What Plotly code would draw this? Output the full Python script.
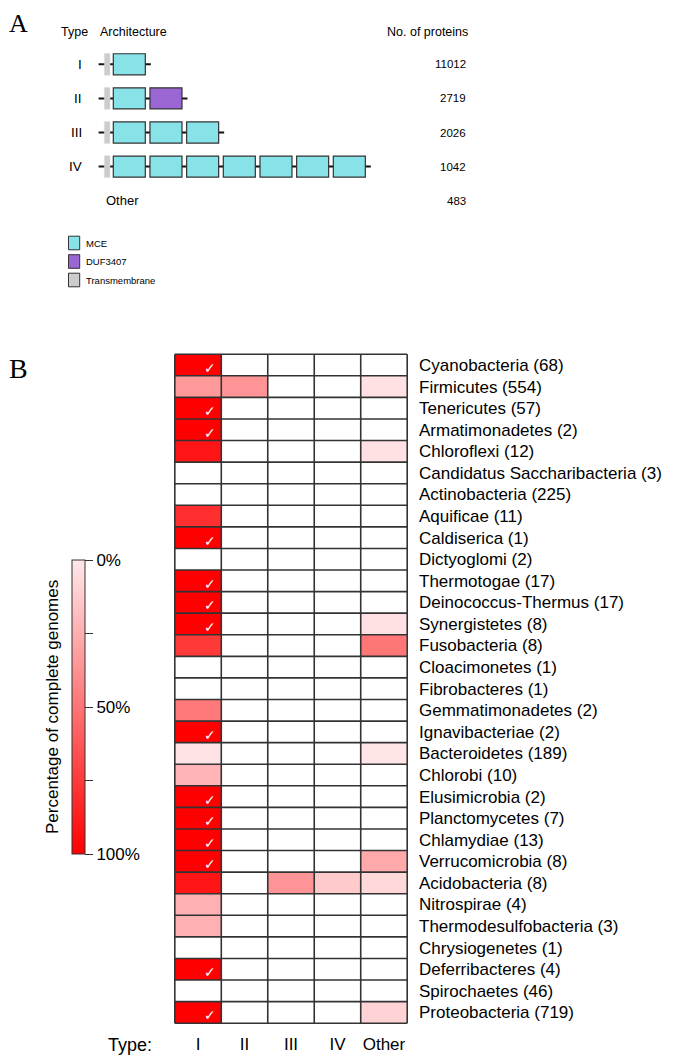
import plotly.graph_objects as go

# ---------------- DATA ----------------
# Panel A: protein architectures
arch_types = ["I", "II", "III", "IV"]
arch_domains = [
    ["MCE"],
    ["MCE", "DUF3407"],
    ["MCE", "MCE", "MCE"],
    ["MCE", "MCE", "MCE", "MCE", "MCE", "MCE", "MCE"],
]
arch_rows = ["I", "II", "III", "IV", "Other"]
protein_counts = ["11012", "2719", "2026", "1042", "483"]
legend_items = ["MCE", "DUF3407", "Transmembrane"]

# Panel B: percentage of complete genomes per phylum and type
phyla = [
    "Cyanobacteria (68)", "Firmicutes (554)", "Tenericutes (57)", "Armatimonadetes (2)",
    "Chloroflexi (12)", "Candidatus Saccharibacteria (3)", "Actinobacteria (225)",
    "Aquificae (11)", "Caldiserica (1)", "Dictyoglomi (2)", "Thermotogae (17)",
    "Deinococcus-Thermus (17)", "Synergistetes (8)", "Fusobacteria (8)",
    "Cloacimonetes (1)", "Fibrobacteres (1)", "Gemmatimonadetes (2)",
    "Ignavibacteriae (2)", "Bacteroidetes (189)", "Chlorobi (10)", "Elusimicrobia (2)",
    "Planctomycetes (7)", "Chlamydiae (13)", "Verrucomicrobia (8)", "Acidobacteria (8)",
    "Nitrospirae (4)", "Thermodesulfobacteria (3)", "Chrysiogenetes (1)",
    "Deferribacteres (4)", "Spirochaetes (46)", "Proteobacteria (719)",
]
types = ["I", "II", "III", "IV", "Other"]
pct_I = [100, 34, 100, 100, 91, 0, 0, 80, 100, 0, 100, 100, 100, 76, 0, 0, 48,
         100, 2, 22, 100, 100, 100, 100, 91, 24, 24, 0, 100, 0, 100]
pct_II = [0, 36, 0, 0, 0, 0, 0, 0, 0, 0, 0, 0, 0, 0, 0, 0, 0,
          0, 0, 0, 0, 0, 0, 0, 0, 0, 0, 0, 0, 0, 0]
pct_III = [0, 0, 0, 0, 0, 0, 0, 0, 0, 0, 0, 0, 0, 0, 0, 0, 0,
           0, 0, 0, 0, 0, 0, 0, 36, 0, 0, 0, 0, 0, 0]
pct_IV = [0, 0, 0, 0, 0, 0, 0, 0, 0, 0, 0, 0, 0, 0, 0, 0, 0,
          0, 0, 0, 0, 0, 0, 0, 13, 0, 0, 0, 0, 0, 0]
pct_Other = [0, 3, 0, 0, 3, 0, 0, 0, 0, 0, 0, 0, 3, 49, 0, 0, 0,
             0, 1.5, 0, 0, 0, 0, 27, 7, 0, 0, 0, 0, 0, 9]
cbar_ticks = [0, 25, 50, 75, 100]
cbar_ticktext = ["0%", "", "50%", "", "100%"]

# ---------------- STYLE ----------------
OFF = 8                      # page body margin of the html page
WIN_W, WIN_H = 675, 1060
W, H = WIN_W - OFF, WIN_H - OFF
SANS = "Liberation Sans, Arial, sans-serif"
SERIF = "Liberation Serif, Times New Roman, serif"
DOMAIN_COLORS = {"MCE": "#88E3E9", "DUF3407": "#9966D3", "Transmembrane": "#CCCCCC"}
GRID = "#333333"


def px_x(p):
    """window pixel -> paper x"""
    return (p - OFF) / W


def px_y(p):
    """window pixel -> paper y"""
    return 1 - (p - OFF) / H


fig = go.Figure()

# ---------------- PANEL B heatmap ----------------
cols = [pct_I, pct_II, pct_III, pct_IV, pct_Other]
z = []
text = []
for i in range(len(phyla)):
    row = []
    trow = []
    for c in cols:
        v = c[i]
        row.append(-v if v > 0 else None)
        trow.append(f"{v}%")
    z.append(row)
    text.append(trow)

fig.add_trace(go.Heatmap(
    z=z, x=types, y=phyla, text=text,
    zmin=-100, zmax=0,
    colorscale=[[0, "#FF0000"], [1, "#FFE8EA"]],
    hovertemplate="%{y}<br>Type %{x}: %{text}<extra></extra>",
    colorbar=dict(
        x=px_x(72), xanchor="left", xpad=0, ypad=0,
        y=px_y(560), yanchor="top", len=294 / H, lenmode="fraction",
        thickness=13, outlinewidth=1, outlinecolor=GRID,
        tickvals=[-t for t in cbar_ticks], ticktext=cbar_ticktext,
        ticks="outside", ticklen=8, tickcolor=GRID, tickwidth=1,
        tickfont=dict(family=SANS, size=17, color="#000"),
    ),
))

# grid lines through the heatmap
n_rows, n_cols = len(phyla), len(types)
shapes = []
for k in range(n_cols + 1):
    shapes.append(dict(type="line", xref="x", yref="y", x0=k - 0.5, x1=k - 0.5,
                       y0=-0.5, y1=n_rows - 0.5, line=dict(color=GRID, width=1.6), layer="above"))
for k in range(n_rows + 1):
    shapes.append(dict(type="line", xref="x", yref="y", x0=-0.5, x1=n_cols - 0.5,
                       y0=k - 0.5, y1=k - 0.5, line=dict(color=GRID, width=1.6), layer="above"))

annotations = []
# check marks for 100% of type I
for i, v in enumerate(pct_I):
    if v >= 100:
        annotations.append(dict(x="I", y=phyla[i], xref="x", yref="y", text="<b>✓</b>",
                                showarrow=False, xshift=12, yshift=-3,
                                font=dict(family="DejaVu Sans, sans-serif", size=14, color="white")))

# ---------------- PANEL A architecture ----------------
PITCH = 36.67      # px per domain slot
ORIGIN = 113.3     # window px of first domain box
ROW = 34.1         # px per architecture row
ROW0 = 64.3        # window px of first row centre
A_BOTTOM = 300     # window px bottom of panel A axis area
x2_range = [(OFF - ORIGIN) / PITCH, (WIN_W - ORIGIN) / PITCH]
y2_range = [(A_BOTTOM - ROW0) / ROW, (OFF - ROW0) / ROW]

BOX_W = 0.873
BOX_H = 0.31
for k, doms in enumerate(arch_domains):
    n = len(doms)
    shapes.append(dict(type="line", xref="x2", yref="y2", x0=-0.40, x1=n - 1 + BOX_W + 0.15,
                       y0=k, y1=k, line=dict(color="#111", width=2), layer="below"))
    shapes.append(dict(type="rect", xref="x2", yref="y2", x0=-0.245, x1=-0.09,
                       y0=k - 0.32, y1=k + 0.32, fillcolor=DOMAIN_COLORS["Transmembrane"],
                       line=dict(color="#DDDDDD", width=0.5)))
    for i, d in enumerate(doms):
        shapes.append(dict(type="rect", xref="x2", yref="y2", x0=i, x1=i + BOX_W,
                           y0=k - BOX_H, y1=k + BOX_H, fillcolor=DOMAIN_COLORS[d],
                           line=dict(color="#333", width=1.2)))

for k, lab in enumerate(arch_rows):
    if lab == "Other":
        annotations.append(dict(x=-0.245, y=k, xref="x2", yref="y2", text=lab, showarrow=False,
                                xanchor="left", font=dict(family=SANS, size=13, color="#000")))
    else:
        annotations.append(dict(x=(84 - ORIGIN) / PITCH, y=k, xref="x2", yref="y2", text=lab,
                                showarrow=False, xanchor="right",
                                font=dict(family=SANS, size=13.5, color="#000")))
    annotations.append(dict(x=(468 - ORIGIN) / PITCH, y=k, xref="x2", yref="y2",
                            text=protein_counts[k], showarrow=False, xanchor="right",
                            font=dict(family=SANS, size=11.5, color="#000")))

# headers
for txt, xp, anc in [("Type", 59, "left"), ("Architecture", 98, "left"), ("No. of proteins", 470, "right")]:
    annotations.append(dict(x=px_x(xp), y=px_y(31.5), xref="paper", yref="paper", text=txt,
                            showarrow=False, xanchor=anc, yanchor="middle",
                            font=dict(family=SANS, size=12.5, color="#000")))

# legend
for j, item in enumerate(legend_items):
    yc = 243 + 18.5 * j
    shapes.append(dict(type="rect", xref="paper", yref="paper", x0=px_x(68.5), x1=px_x(79.7),
                       y0=px_y(yc - 6.8), y1=px_y(yc + 6.8), fillcolor=DOMAIN_COLORS[item],
                       line=dict(color="#333", width=1)))
    annotations.append(dict(x=px_x(84), y=px_y(yc), xref="paper", yref="paper", text=item,
                            showarrow=False, xanchor="left", yanchor="middle",
                            font=dict(family=SANS, size=9.5, color="#000")))

# panel letters
annotations.append(dict(x=px_x(OFF), y=px_y(OFF), xref="paper", yref="paper", text="A",
                        showarrow=False, xanchor="left", yanchor="top", borderpad=0,
                        font=dict(family=SERIF, size=26, color="#000")))
annotations.append(dict(x=px_x(OFF), y=px_y(368), xref="paper", yref="paper", text="B",
                        showarrow=False, xanchor="left", yanchor="middle", borderpad=0,
                        font=dict(family=SERIF, size=28, color="#000")))

# colorbar title and Type: label
annotations.append(dict(x=px_x(52), y=px_y(707), xref="paper", yref="paper",
                        text="Percentage of complete genomes", textangle=-90, showarrow=False,
                        xanchor="center", yanchor="middle",
                        font=dict(family=SANS, size=17, color="#000")))
annotations.append(dict(x=px_x(106), y=px_y(1045), xref="paper", yref="paper", text="Type:",
                        showarrow=False, xanchor="left", yanchor="middle",
                        font=dict(family=SANS, size=18, color="#000")))

fig.update_layout(
    width=W, height=H,
    margin=dict(l=0, r=0, t=0, b=0),
    paper_bgcolor="white", plot_bgcolor="white",
    showlegend=False,
    shapes=shapes,
    annotations=annotations,
    xaxis=dict(domain=[px_x(174), px_x(408)], side="bottom", showgrid=False, zeroline=False,
               showline=False, ticks="", tickfont=dict(family=SANS, size=17, color="#000"),
               ticklabelstandoff=8, automargin=False, fixedrange=True),
    yaxis=dict(domain=[px_y(1024), px_y(352)], side="right", autorange="reversed",
               showgrid=False, zeroline=False, showline=False, ticks="",
               tickfont=dict(family=SANS, size=17, color="#000"), ticklabelstandoff=10,
               automargin=False, fixedrange=True),
    xaxis2=dict(domain=[0, 1], range=x2_range, visible=False, fixedrange=True, anchor="y2"),
    yaxis2=dict(domain=[px_y(A_BOTTOM), 1], range=y2_range, visible=False, fixedrange=True,
                anchor="x2"),
)

fig.write_html("out.html")
